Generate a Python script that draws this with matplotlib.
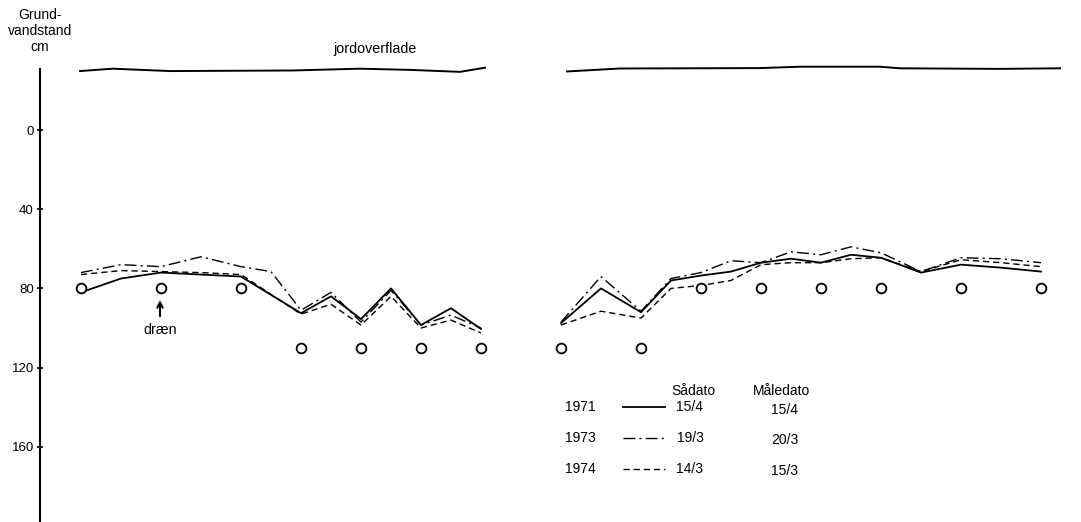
import numpy as np
import matplotlib
matplotlib.use('Agg')
import matplotlib.pyplot as plt
from matplotlib.lines import Line2D

plt.rcParams['font.family'] = ['Liberation Sans', 'DejaVu Sans']
plt.rcParams['lines.scale_dashes'] = False

# afstand langs tværsnit (m) og grundvandstand (cm under reference)
x_left = [0, 4, 8, 12, 16, 22, 25, 28, 31, 34, 37, 40]
x_left_73 = [0, 4, 8, 12, 16, 19, 22, 25, 28, 31, 34, 37, 40]
gw71_left = [82, 75, 72, 73, 74, 92.5, 84, 95.5, 80, 98.5, 90, 100.5]
gw73_left = [72, 68, 69, 64, 69, 71.5, 91, 82, 97, 81, 98.5, 93.5, 100]
gw74_left = [73, 71, 71.5, 72, 73, 93, 88, 98.5, 84, 100, 96, 102.5]

x_right = [48, 52, 56, 59, 62, 65, 68, 71, 74, 77, 80, 84, 88, 92, 96]
gw71_right = [97.5, 80, 92, 76, 73.5, 71.5, 67, 65, 67, 63, 64.5, 72, 68, 69.5, 71.5]
gw73_right = [97, 74, 91.5, 75, 72, 66, 67, 61.5, 63, 59, 62, 71.5, 64.5, 65, 67]
gw74_right = [98.5, 91.5, 95, 80, 78.5, 76, 68, 67, 67, 65, 64.5, 71.5, 65.5, 67, 69]

# dræn
drain_x = [0, 8, 16, 22, 28, 34, 40, 48, 56, 62, 68, 74, 80, 88, 96]
drain_depth = [80, 80, 80, 110, 110, 110, 110, 110, 110, 80, 80, 80, 80, 80, 80]

# jordoverflade
soil_x_left = [-0.1, 3.2, 8.9, 21.2, 27.9, 32.9, 37.9, 40.4]
soil_left = [-29.8, -31.0, -29.8, -30.1, -31.0, -30.4, -29.4, -31.5]
soil_x_right = [48.6, 53.9, 67.9, 71.9, 79.9, 81.9, 91.9, 97.9]
soil_right = [-29.6, -31.1, -31.3, -32.0, -32.0, -31.2, -30.9, -31.2]

years = ['1971', '1973', '1974']
saadato = ['15/4', '19/3', '14/3']
maaledato = ['15/4', '20/3', '15/3']
yticks = [0, 40, 80, 120, 160]

solid = dict(color='black', lw=1.3, ls='-')
dashdot = dict(color='black', lw=1.0, ls=(0, (8.5, 3, 1.5, 3)))
dashed = dict(color='black', lw=1.0, ls=(0, (4.5, 2.8)))

fig = plt.figure(figsize=(10.81, 5.22), dpi=100)
ax = fig.add_axes([0.037, 0, 0.963, 1])

ax.plot(soil_x_left, soil_left, color='black', lw=1.4)
ax.plot(soil_x_right, soil_right, color='black', lw=1.4)

ax.plot(x_left, gw71_left, **solid)
ax.plot(x_left_73, gw73_left, **dashdot)
ax.plot(x_left, gw74_left, **dashed)
ax.plot(x_right, gw71_right, **solid)
ax.plot(x_right, gw73_right, **dashdot)
ax.plot(x_right, gw74_right, **dashed)

ax.plot(drain_x, drain_depth, ls='none', marker='o', ms=7, mfc='white',
        mec='black', mew=1.3)

ax.text(29.4, -41, 'jordoverflade', ha='center', va='center', fontsize=10.3)
ax.annotate('', xy=(7.9, 84.5), xytext=(7.9, 95.5),
            arrowprops=dict(arrowstyle='->', color='black', lw=1.4))
ax.text(7.9, 101, 'dræn', ha='center', va='center', fontsize=10.3)

# tegnforklaring
ax.text(61.2, 132, 'Sådato', ha='center', va='center', fontsize=10)
ax.text(70.1, 132, 'Måledato', ha='center', va='center', fontsize=10)
row_y = [140, 155.5, 171]
styles = [solid, dashdot, dashed]
for i in range(3):
    ax.text(48.4, row_y[i], years[i], ha='left', va='center', fontsize=10)
    ax.add_line(Line2D([54.2, 58.4], [row_y[i], row_y[i]], **styles[i]))
    ax.text(60.9, row_y[i], saadato[i], ha='center', va='center', fontsize=10)
    ax.text(70.4, row_y[i] + 1.2, maaledato[i], ha='center', va='center', fontsize=10)

fig.text(0.037, 0.985, 'Grund-\nvandstand\ncm', ha='center', va='top',
         fontsize=10, linespacing=1.2)

ax.set_xlim(-4.1, 100)
ax.set_ylim(198, -65.7)
ax.set_yticks(yticks)
ax.tick_params(axis='y', direction='inout', length=5, width=1.2, pad=2,
               labelsize=9.5)
ax.set_xticks([])
for s in ['top', 'right', 'bottom']:
    ax.spines[s].set_visible(False)
ax.spines['left'].set_bounds(-31, 198)
ax.spines['left'].set_linewidth(1.5)

plt.savefig('out.png', dpi=100)
